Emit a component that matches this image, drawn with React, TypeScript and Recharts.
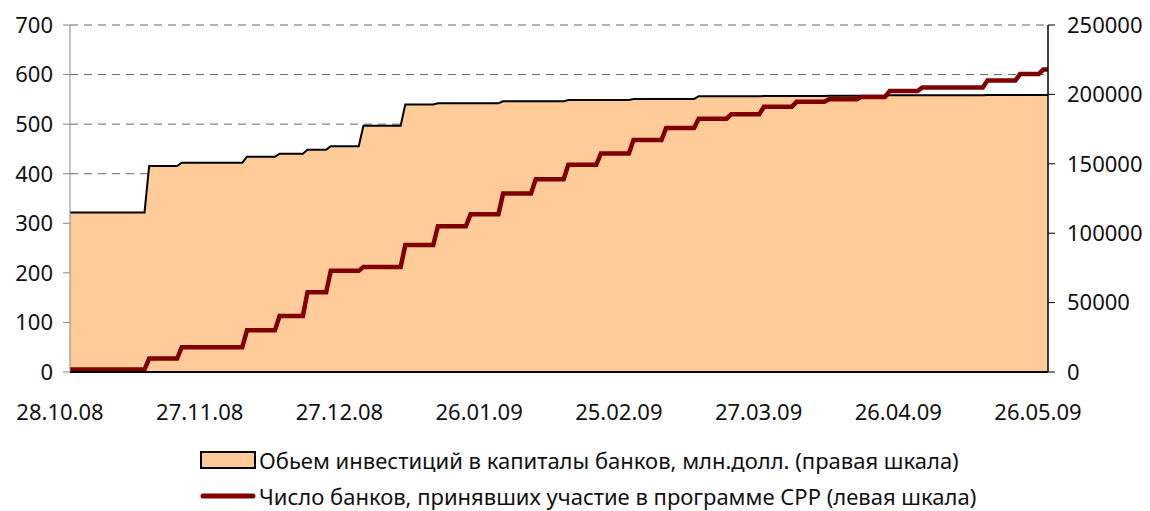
import React from 'react';
import {
  Area,
  CartesianGrid,
  ComposedChart,
  Legend,
  Line,
  XAxis,
  YAxis,
} from 'recharts';

// days since 28.10.08 at which a new weekly figure starts
const stepDays = [0, 16, 23, 37, 44, 50, 55, 62, 71, 78, 85, 92, 99, 106, 113, 120, 127, 134, 141, 148, 155, 162, 169, 175, 182, 196, 203, 208];
// number of banks in CPP (left scale)
const banks = [5, 27, 50, 84, 113, 161, 204, 212, 256, 294, 318, 360, 389, 418, 441, 468, 492, 511, 520, 535, 545, 550, 555, 567, 574, 588, 601, 610];
// investments, mln USD (right scale)
const investments = [115000, 148400, 150800, 155100, 157300, 160200, 162600, 177400, 192800, 193600, 193600, 195000, 195000, 196000, 196000, 196700, 196700, 198700, 198700, 198900, 198900, 199100, 199100, 199300, 199300, 199500, 199500, 199500];
const lastDay = 210;

const tickDays = [0, 30, 60, 90, 120, 150, 180, 210];
const tickLabels = ['28.10.08', '27.11.08', '27.12.08', '26.01.09', '25.02.09', '27.03.09', '26.04.09', '26.05.09'];
const leftTicks = [0, 100, 200, 300, 400, 500, 600, 700];
const rightTicks = [0, 50000, 100000, 150000, 200000, 250000];

const areaName = 'Обьем инвестиций в капиталы банков, млн.долл. (правая шкала)';
const lineName = 'Число банков, принявших участие в программе СРР (левая шкала)';

// each weekly value holds until the next step, which rises over one day
const data: { day: number; banks: number; investments: number }[] = [];
stepDays.forEach((d, i) => {
  if (i > 0) data.push({ day: d, banks: banks[i - 1], investments: investments[i - 1] });
  data.push({ day: i > 0 ? d + 1 : d, banks: banks[i], investments: investments[i] });
});
data.push({ day: lastDay, banks: banks[banks.length - 1], investments: investments[investments.length - 1] });

const FONT = '"Noto Sans", sans-serif';
const tickStyle = { fontSize: 22, fill: '#111', fontFamily: FONT };

const LegendBox = () => (
  <div style={{ height: 80, paddingTop: 11, boxSizing: 'border-box', fontFamily: FONT, fontSize: 22, color: '#111', whiteSpace: 'nowrap' }}>
    <div style={{ height: 36, display: 'flex', alignItems: 'center' }}>
      <svg width={59} height={18}>
        <rect x={1} y={1} width={54} height={16} fill="#FFCC99" stroke="#000" strokeWidth={2} />
      </svg>
      <span>{areaName}</span>
    </div>
    <div style={{ height: 36, display: 'flex', alignItems: 'center' }}>
      <svg width={59} height={18}>
        <line x1={3} y1={9} x2={53} y2={9} stroke="#800000" strokeWidth={5} strokeLinecap="round" />
      </svg>
      <span>{lineName}</span>
    </div>
  </div>
);

const App = () => (
  <ComposedChart
    width={1142}
    height={503}
    data={data}
    margin={{ top: 17, right: 0, left: 0, bottom: 0 }}
    style={{ fontFamily: FONT }}
  >
    <CartesianGrid yAxisId="left" vertical={false} stroke="#666" strokeDasharray="8 6" />
    <XAxis
      dataKey="day"
      type="number"
      domain={[0, lastDay]}
      ticks={tickDays}
      tickFormatter={(v) => tickLabels[tickDays.indexOf(v)]}
      axisLine={{ stroke: '#000', strokeWidth: 2 }}
      tickLine={false}
      tickSize={0}
      tickMargin={32}
      tick={tickStyle}
      dx={-10}
      height={59}
      interval={0}
    />
    <YAxis
      yAxisId="left"
      domain={[0, 700]}
      ticks={leftTicks}
      width={62}
      tickSize={7}
      tickMargin={10}
      axisLine={{ stroke: '#888' }}
      tickLine={{ stroke: '#888' }}
      tick={tickStyle}
      interval={0}
    />
    <YAxis
      yAxisId="right"
      orientation="right"
      domain={[0, 250000]}
      ticks={rightTicks}
      width={102}
      tickSize={7}
      tickMargin={12}
      axisLine={{ stroke: '#000', strokeWidth: 1.5 }}
      tickLine={{ stroke: '#000' }}
      tick={tickStyle}
      interval={0}
    />
    <Area
      yAxisId="right"
      type="linear"
      dataKey="investments"
      name={areaName}
      fill="#FFCC99"
      fillOpacity={1}
      stroke="#000"
      strokeWidth={2}
      isAnimationActive={false}
    />
    <Line
      yAxisId="left"
      type="linear"
      dataKey="banks"
      name={lineName}
      stroke="#800000"
      strokeWidth={4.5}
      dot={false}
      isAnimationActive={false}
    />
    <Legend verticalAlign="bottom" content={LegendBox} wrapperStyle={{ left: 192, width: 900 }} />
  </ComposedChart>
);

export default App;
